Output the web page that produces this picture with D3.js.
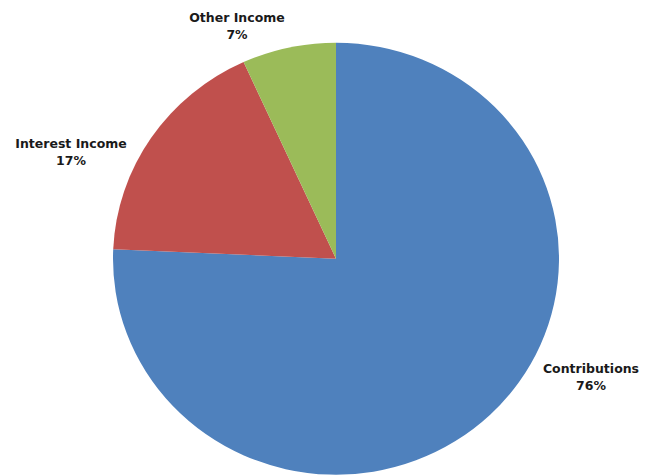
<!DOCTYPE html>
<html><head><meta charset="utf-8">
<script src="https://cdn.jsdelivr.net/npm/d3@7"></script>
<style>body{margin:0;background:#fff}svg{display:block}</style>
</head><body>
<svg id="c" width="656" height="476"></svg>
<script>
const categories = ["Contributions", "Interest Income", "Other Income"];
const values = [75.7, 17.5, 6.8];
const pctLabels = ["76%", "17%", "7%"];
const colors = ["#4F81BD", "#C0504D", "#9BBB59"];
const labelPos = [[591, 373], [71, 148], [237, 22]];

const svg = d3.select("#c");
const cx = 336, cy = 258.7, r = 223, ry = 216;
const pie = d3.pie().sort(null).value(d => d)(values);
const arc = d3.arc().innerRadius(0).outerRadius(r);
const g = svg.append("g").attr("transform", `translate(${cx},${cy}) scale(1,${ry / r})`);
g.selectAll("path").data(pie).join("path")
  .attr("d", arc).attr("fill", (d, i) => colors[i]);

const lg = svg.append("g").attr("font-family", "DejaVu Sans, sans-serif")
  .attr("font-weight", "bold").attr("font-size", 12.5).attr("fill", "#1a1a1a")
  .attr("text-anchor", "middle");
categories.forEach((c, i) => {
  const t = lg.append("text").attr("x", labelPos[i][0]).attr("y", labelPos[i][1]);
  t.append("tspan").attr("x", labelPos[i][0]).text(c);
  t.append("tspan").attr("x", labelPos[i][0]).attr("dy", 17).text(pctLabels[i]);
});
</script>
</body></html>
